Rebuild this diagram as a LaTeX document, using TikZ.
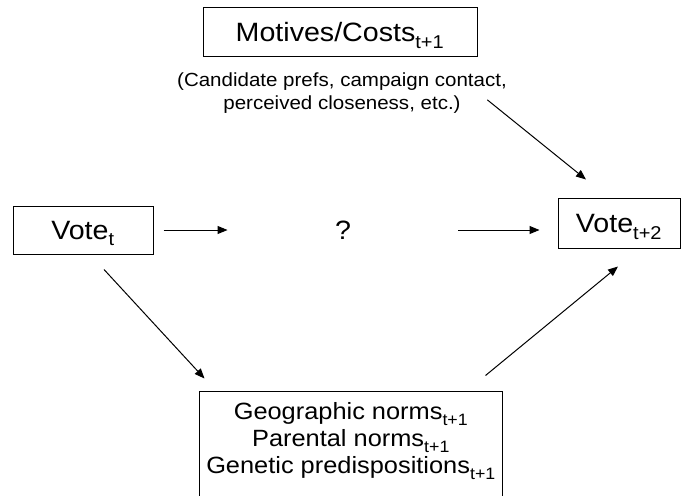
\documentclass[tikz,border=0pt]{standalone}
\usepackage{fontspec}
\setmainfont{Liberation Sans}[FakeStretch=1.08]
\usetikzlibrary{arrows.meta}
\newcommand{\lowsub}[1]{\raisebox{-0.1em}{\textsubscript{#1}}}

\begin{document}
\begin{tikzpicture}[x=1pt, y=-1pt, line width=1pt, >={Triangle[length=10pt,width=8pt]},
    big/.style={inner sep=0pt, font=\fontsize{26.5}{30}\selectfont},
    box/.style={big, draw, text depth=0pt},
    note/.style={align=center, inner sep=0pt, font=\fontsize{19}{23}\selectfont},
    normsbox/.style={align=center, inner sep=0pt, minimum width=302pt, minimum height=96pt, font=\fontsize{23.5}{27}\selectfont}]
    \useasboundingbox (0,0) rectangle (684,495);
    \node[box, minimum width=274pt, minimum height=48pt] (motives) at (340,32) {Motives/Costs\lowsub{t+1}};
    \node[note] (prefs) at (342,93) {(Candidate prefs, campaign contact,\\ perceived closeness, etc.)};
    \node[box, minimum width=140pt, minimum height=48pt] (votet) at (83,230) {Vote\lowsub{t}};
    \node[big] (q) at (343,230) {?};
    \node[box, minimum width=122pt, minimum height=50pt] (votet2) at (619,223) {Vote\lowsub{t+2}};
    \node[normsbox] (norms) at (351,441) {Geographic norms\lowsub{t+1}\\ Parental norms\lowsub{t+1}\\ Genetic predispositions\lowsub{t+1}};
    \draw ([yshift=-30pt]norms.south west) |- ([yshift=1pt]norms.north east) -- ([yshift=-30pt]norms.south east);
    \draw[->, shorten <=10pt, shorten >=107pt] (votet.east) -- (q.west);
    \draw[->, shorten <=107pt, shorten >=18pt] (q.east) -- (q.east -| votet2.west);
    \draw[->] ([xshift=-20pt, yshift=14pt]prefs.south east) -- ([xshift=-33pt, yshift=18pt]votet2.north);
    \draw[->] ([xshift=21pt, yshift=-15pt]votet.south) -- ([xshift=5pt, yshift=14pt]norms.north west);
    \draw[->] ([xshift=-17pt, yshift=17pt]norms.north east) -- ([xshift=-1pt, yshift=-18pt]votet2.south);
\end{tikzpicture}
\end{document}
